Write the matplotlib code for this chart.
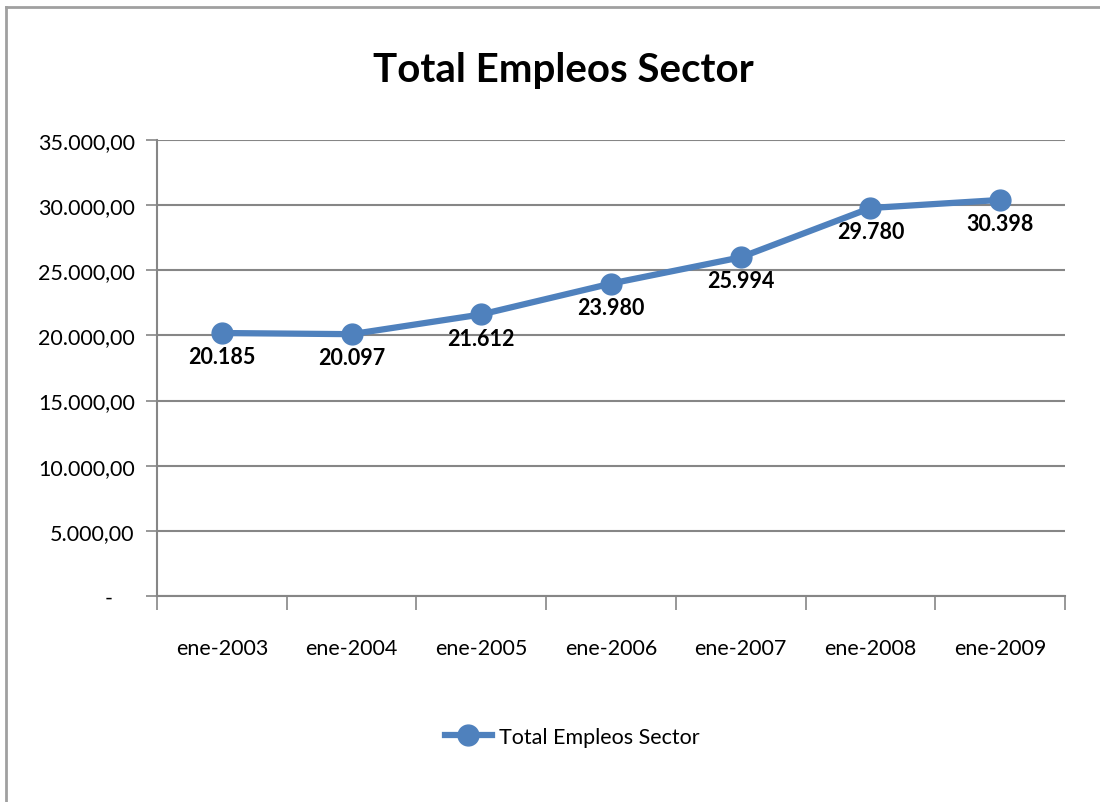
import numpy as np
import matplotlib.pyplot as plt
from matplotlib.lines import Line2D
from matplotlib.ticker import FuncFormatter, FixedLocator

plt.rcParams['font.family'] = ['Liberation Sans Narrow', 'Lato', 'DejaVu Sans']

categories = ['ene-2003', 'ene-2004', 'ene-2005', 'ene-2006', 'ene-2007', 'ene-2008', 'ene-2009']
empleos = [20185, 20097, 21612, 23980, 25994, 29780, 30398]
labels = ['20.185', '20.097', '21.612', '23.980', '25.994', '29.780', '30.398']
yticks = [0, 5000, 10000, 15000, 20000, 25000, 30000, 35000]

blue = '#4F81BD'
grid = '#868686'


def fmt(v, pos):
    # excel style: 35.000,00 and a dash for zero
    if v == 0:
        return '-    '
    s = '{:,.2f}'.format(v)
    return s.replace(',', 'X').replace('.', ',').replace('X', '.')


fig = plt.figure(figsize=(11, 8.03), dpi=100)
ax = fig.add_axes([157 / 1100, 1 - 597 / 803, (1065 - 157) / 1100, (597 - 141) / 803])

x = np.arange(len(categories))
ax.plot(x, empleos, color=blue, lw=4.5, marker='o', markersize=15, zorder=3,
        label='Total Empleos Sector')
for xi, yi, t in zip(x, empleos, labels):
    ax.annotate(t, (xi, yi), xytext=(0, -17), textcoords='offset points',
                ha='center', va='center', fontsize=15.5, fontweight='bold', color='black')

ax.set_xlim(-0.5, len(categories) - 0.5)
ax.set_ylim(0, 35000)
ax.set_yticks(yticks)
ax.yaxis.set_major_formatter(FuncFormatter(fmt))
ax.grid(axis='y', color=grid, lw=1.5)
ax.set_axisbelow(True)

ax.xaxis.set_major_locator(FixedLocator(np.arange(-0.5, len(categories), 1)))
ax.xaxis.set_major_formatter(FuncFormatter(lambda v, p: ''))
ax.xaxis.set_minor_locator(FixedLocator(x))
ax.set_xticklabels(categories, minor=True)
ax.tick_params(axis='x', which='major', length=10, width=1.2, color=grid, direction='out')
ax.tick_params(axis='x', which='minor', length=0, pad=30, labelsize=15.5)
ax.tick_params(axis='y', length=8, width=1.2, color=grid, labelsize=15.5, pad=8)

for s in ['top', 'right']:
    ax.spines[s].set_visible(False)
for s in ['left', 'bottom']:
    ax.spines[s].set_color(grid)
    ax.spines[s].set_linewidth(1.5)

fig.text(0.512, 0.912, 'Total Empleos Sector', ha='center', va='center',
         fontsize=29, fontweight='bold')

fig.legend(loc='center', bbox_to_anchor=(0.52, 0.081), frameon=False, fontsize=15.5,
           handlelength=2.2, handletextpad=0.3)

# chart frame, only left and top edges show in the original
fig.add_artist(Line2D([6 / 1100, 6 / 1100], [0, 1 - 8 / 803], color='#A0A0A0', lw=2))
fig.add_artist(Line2D([6 / 1100, 1.01], [1 - 8 / 803, 1 - 8 / 803], color='#A0A0A0', lw=2))

fig.savefig('out.png', dpi=100)
